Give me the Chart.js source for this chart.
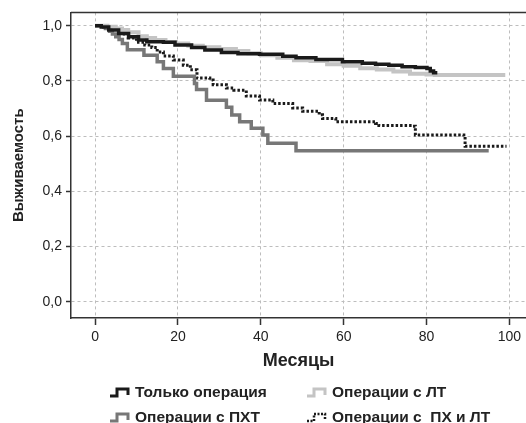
<!DOCTYPE html>
<html>
<head>
<meta charset="utf-8">
<script src="https://cdn.jsdelivr.net/npm/chart.js@4.4.1/dist/chart.umd.min.js"></script>
<style>
    html, body { margin: 0; padding: 0; background: #fff; }
    canvas { display: block; }
</style>
</head>
<body>
<canvas id="kmChart" width="526" height="423"></canvas>
<script>
// Kaplan-Meier curves: [month, survival after the step]
const seriesNames = ["Только операция", "Операции с ЛТ", "Операции с ПХТ", "Операции с  ПХ и ЛТ"];

const surgeryOnly = [
    [0, 1], [1.5, 0.995], [3.3, 0.984], [5.7, 0.972], [8.1, 0.96], [10.5, 0.948], [12.5, 0.942],
    [16.5, 0.94], [19.3, 0.93], [23.3, 0.921], [26.5, 0.912], [30.5, 0.903], [34.5, 0.898],
    [39.7, 0.896], [45.3, 0.889], [48.5, 0.884], [53.3, 0.877], [59.7, 0.869], [64.5, 0.864],
    [67.7, 0.86], [70.9, 0.857], [74.1, 0.851], [77.3, 0.848], [80.1, 0.845], [80.9, 0.836],
    [81.7, 0.829], [82.6, 0.829]
];

const surgeryRt = [
    [0, 1], [3, 0.996], [5, 0.99], [6.5, 0.984], [8, 0.976], [10.5, 0.962], [12.5, 0.955],
    [14.5, 0.948], [17, 0.941], [19.5, 0.935], [22.5, 0.927], [26, 0.922], [30, 0.915],
    [34, 0.908], [37, 0.9], [40, 0.893], [44, 0.884], [48, 0.875], [52, 0.872], [56, 0.86],
    [60, 0.855], [64, 0.846], [68, 0.841], [72, 0.834], [76, 0.826], [80, 0.823], [82, 0.821],
    [99, 0.821]
];

const surgeryCt = [
    [0, 1], [2.5, 0.99], [3.5, 0.98], [4.2, 0.97], [5, 0.96], [5.8, 0.95], [6.6, 0.935],
    [7.8, 0.913], [11.8, 0.893], [15, 0.869], [16.5, 0.845], [18.9, 0.817], [24, 0.79],
    [24.5, 0.769], [26.9, 0.73], [31.7, 0.704], [33, 0.676], [34.9, 0.652], [37.7, 0.628],
    [40.5, 0.604], [41.7, 0.574], [48.5, 0.547], [95, 0.547]
];

const surgeryCtRt = [
    [0, 1], [2, 0.995], [3.8, 0.989], [5, 0.983], [6.5, 0.97], [8, 0.955], [10, 0.94],
    [12, 0.93], [13.7, 0.921], [15, 0.905], [16.5, 0.89], [18.9, 0.876], [21.3, 0.857],
    [23, 0.84], [24.6, 0.81], [27.7, 0.803], [28.5, 0.786], [31.7, 0.774], [33.5, 0.766],
    [36.5, 0.745], [39.7, 0.731], [42.9, 0.718], [47.7, 0.702], [50.1, 0.69], [54.1, 0.677],
    [54.9, 0.664], [58.1, 0.652], [67.7, 0.646], [68.5, 0.638], [76.5, 0.636], [77.3, 0.604],
    [89, 0.598], [89.3, 0.563], [99.3, 0.563]
];

const monthTicks = [0, 20, 40, 60, 80, 100];
const survivalTicks = [0, 0.2, 0.4, 0.6, 0.8, 1.0];

const FONT = "'Liberation Sans', Arial, sans-serif";
const INK = "#222";

function toPoints(rows) {
    return rows.map(r => ({ x: r[0], y: r[1] }));
}

function stepSet(label, rows, color, width, dash) {
    return {
        label: label,
        data: toPoints(rows),
        borderColor: color,
        borderWidth: width,
        borderDash: dash || [],
        stepped: "before",
        pointRadius: 0,
        fill: false,
        borderCapStyle: "butt",
        borderJoinStyle: "miter"
    };
}

// legend styles in the same order as seriesNames
const legendStyles = [
    { color: "#1a1a1a", width: 3, dash: [] },
    { color: "#c4c4c4", width: 3, dash: [] },
    { color: "#777777", width: 3, dash: [] },
    { color: "#1a1a1a", width: 2.5, dash: [2, 1.5] }
];
const legendSlots = [
    { x: 110, y: 393 }, { x: 307, y: 393 },
    { x: 110, y: 418 }, { x: 307, y: 418 }
];

// top frame line and the two-column legend with small step icons
const frameAndLegend = {
    id: "frameAndLegend",
    afterDraw(chart) {
        const { ctx, chartArea } = chart;
        ctx.save();
        ctx.strokeStyle = "#333";
        ctx.lineWidth = 1.5;
        ctx.beginPath();
        ctx.moveTo(chartArea.left, chartArea.top);
        ctx.lineTo(chartArea.right, chartArea.top);
        ctx.stroke();

        ctx.font = "bold 15.5px " + FONT;
        ctx.textBaseline = "middle";
        ctx.fillStyle = INK;
        seriesNames.forEach((name, i) => {
            const slot = legendSlots[i];
            const st = legendStyles[i];
            const x = slot.x, y = slot.y - 4;
            ctx.strokeStyle = st.color;
            ctx.lineWidth = st.width;
            ctx.setLineDash(st.dash);
            ctx.beginPath();
            ctx.moveTo(x, y + 7);
            ctx.lineTo(x + 7, y + 7);
            ctx.lineTo(x + 7, y);
            ctx.lineTo(x + 18, y);
            ctx.lineTo(x + 18, y + 6);
            ctx.stroke();
            ctx.setLineDash([]);
            ctx.fillText(name, slot.x + 25, slot.y);
        });
        ctx.restore();
    }
};

const ctx = document.getElementById("kmChart").getContext("2d");
new Chart(ctx, {
    type: "line",
    data: {
        datasets: [
            stepSet(seriesNames[0], surgeryOnly, "#1a1a1a", 3.5),
            stepSet(seriesNames[1], surgeryRt, "#c4c4c4", 4),
            stepSet(seriesNames[2], surgeryCt, "#777777", 3.5),
            stepSet(seriesNames[3], surgeryCtRt, "#1a1a1a", 3, [2.5, 2])
        ]
    },
    options: {
        responsive: false,
        animation: false,
        layout: { padding: { top: 12, right: 0, bottom: 50, left: 0 } },
        plugins: {
            legend: { display: false },
            tooltip: { enabled: false }
        },
        scales: {
            x: {
                type: "linear",
                min: -5.8,
                max: 104,
                afterBuildTicks: s => { s.ticks = monthTicks.map(v => ({ value: v })); },
                afterFit: s => { s.height = 55; },
                grid: { color: "#bdbdbd", lineWidth: 1, tickLength: 7, tickColor: "#333", tickWidth: 1.5 },
                border: { color: "#333", width: 1.5, dash: [3, 3] },
                ticks: { color: INK, padding: 4, maxRotation: 0, font: { family: FONT, size: 14 } },
                title: {
                    display: true,
                    text: "Месяцы",
                    color: INK,
                    padding: { top: 0, bottom: 1 },
                    font: { family: FONT, size: 18, weight: "bold" }
                }
            },
            y: {
                min: -0.059,
                max: 1.048,
                afterBuildTicks: s => { s.ticks = survivalTicks.map(v => ({ value: v })); },
                afterFit: s => { s.width = 71; },
                grid: { color: "#bdbdbd", lineWidth: 1, tickLength: 5, tickColor: "#333", tickWidth: 1.5 },
                border: { color: "#333", width: 1.5, dash: [3, 3] },
                ticks: {
                    color: INK,
                    padding: 4,
                    font: { family: FONT, size: 14 },
                    callback: v => v.toFixed(1).replace(".", ",")
                },
                title: {
                    display: true,
                    text: "Выживаемость",
                    color: INK,
                    padding: { top: 10, bottom: 0 },
                    font: { family: FONT, size: 15, weight: "bold" }
                }
            }
        }
    },
    plugins: [frameAndLegend]
});
</script>
</body>
</html>
